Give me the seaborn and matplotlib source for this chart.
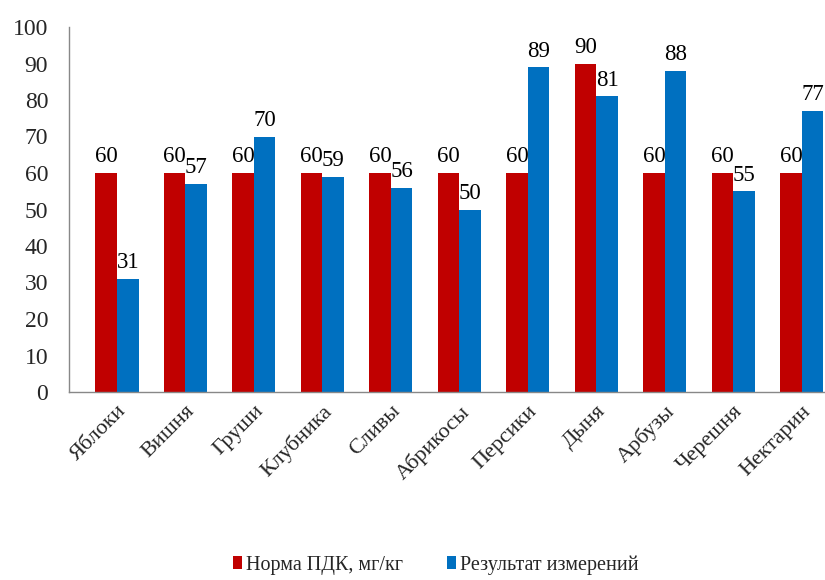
import matplotlib
matplotlib.use("Agg")
import matplotlib.pyplot as plt
import seaborn as sns
import pandas as pd

categories = ["Яблоки", "Вишня", "Груши", "Клубника", "Сливы", "Абрикосы",
              "Персики", "Дыня", "Арбузы", "Черешня", "Нектарин"]
norma = [60, 60, 60, 60, 60, 60, 60, 90, 60, 60, 60]
result = [31, 57, 70, 59, 56, 50, 89, 81, 88, 55, 77]
series_names = ["Норма ПДК, мг/кг", "Результат измерений"]
colors = ["#C00000", "#0070C0"]

df = pd.DataFrame({
    "cat": categories * 2,
    "val": norma + result,
    "series": [series_names[0]] * len(categories) + [series_names[1]] * len(categories),
})

sns.set_theme(style="white")
plt.rcParams["font.family"] = ["Liberation Serif", "DejaVu Serif"]

fig = plt.figure(figsize=(8.25, 5.8), dpi=100)
ax = fig.add_axes([69 / 825, 188 / 580, 756 / 825, 365 / 580])

sns.barplot(data=df, x="cat", y="val", hue="series", palette=colors,
            width=0.63, gap=0, saturation=1, linewidth=0, ax=ax, legend=True)

for cont in ax.containers:
    ax.bar_label(cont, padding=4, fontsize=16.5, color="#000000")

ax.set_ylim(0, 100)
ax.set_yticks(range(0, 101, 10))
ax.set_xlim(-0.70, 10.34)
ax.set_xlabel("")
ax.set_ylabel("")
ax.tick_params(axis="y", length=0, pad=15, labelsize=17)
ax.tick_params(axis="x", length=0, pad=7, labelsize=16)
for lab in ax.get_xticklabels():
    lab.set_rotation(45)
    lab.set_ha("right")
    lab.set_rotation_mode("anchor")

for s in ["top", "right"]:
    ax.spines[s].set_visible(False)
for s in ["left", "bottom"]:
    ax.spines[s].set_color("#888888")
    ax.spines[s].set_linewidth(1)

ax.legend(loc="center", bbox_to_anchor=(436 / 825, 15 / 580),
          bbox_transform=fig.transFigure, ncol=2, frameon=False,
          prop={"family": "Liberation Serif", "size": 14.5},
          handlelength=0.45, handleheight=0.6,
          handletextpad=0.2, columnspacing=2.2)

fig.savefig("out.png", dpi=100)
